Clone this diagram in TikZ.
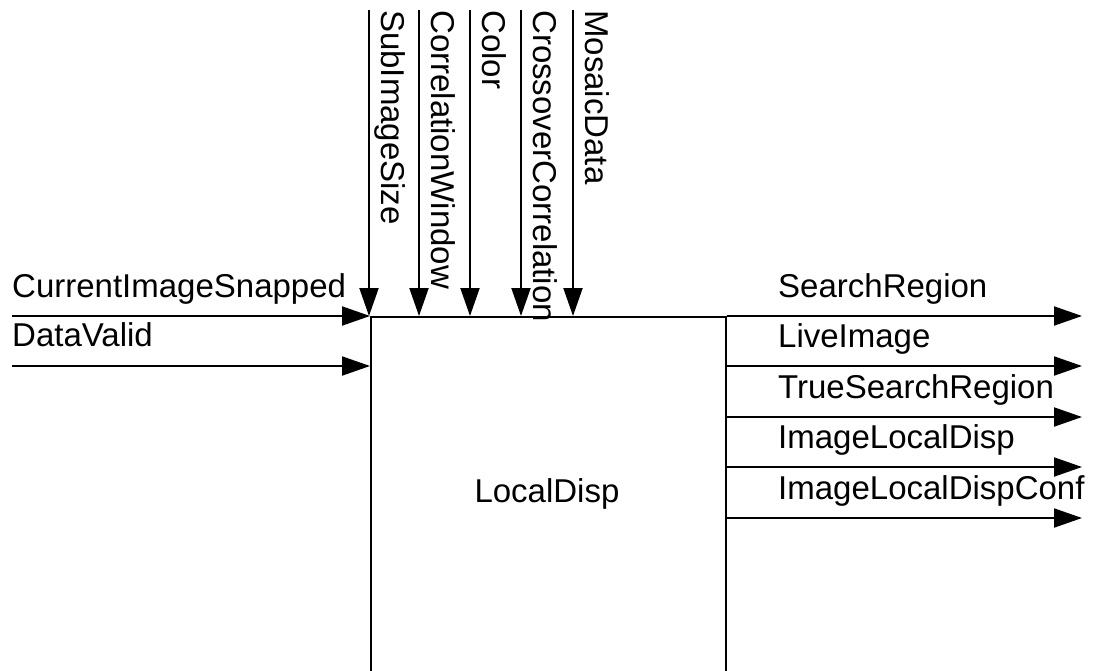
\documentclass[tikz,border=0pt]{standalone}
\usepackage{fontspec}
\setmainfont{Liberation Sans}
\usetikzlibrary{arrows.meta}
\begin{document}
\begin{tikzpicture}[x=1pt,y=1pt,
  sig/.style={line width=2pt,-{Triangle[length=28pt,width=19pt]}},
  lbl/.style={inner sep=0pt,anchor=base west,font=\fontsize{33}{38}\selectfont},
  vlbl/.style={lbl,rotate=-90}]
\clip (0,0) rectangle (1098,-670);
\fill[white] (0,0) rectangle (1098,-670);

% main block, open past the lower edge
\node[draw,line width=2pt,minimum width=355pt,minimum height=420pt,
      anchor=north west,inner sep=0pt] (ld) at (370,-316) {};
\node[lbl,anchor=base] (ldname) at (547,-502) {LocalDisp};

% inputs from the left
\coordinate (i1) at (12,-316);
\coordinate (i2) at (12,-366);
\draw[sig] (i1) -- (i1 -| ld.west);
\draw[sig] (i2) -- (i2 -| ld.west);
\node[lbl] (li1) at (12,-297) {CurrentImageSnapped};
\node[lbl] (li2) at (12,-346) {DataValid};

% inputs from above
\foreach \n/\x/\t in {1/369/SubImageSize,2/419/CorrelationWindow,3/470/Color,
                      4/521/CrossoverCorrelation,5/573/MosaicData}{
  \coordinate (t\n) at (\x,-10);
  \draw[sig] (t\n) -- (t\n |- ld.north);
  \node[vlbl] (lt\n) at (\x+12,-10) {\t};
}

% outputs to the right
\foreach \n/\y/\t in {1/316/SearchRegion,2/366/LiveImage,3/417/TrueSearchRegion,
                      4/467/ImageLocalDisp,5/518/ImageLocalDispConf}{
  \coordinate (o\n) at (1082,-\y);
  \draw[sig] (o\n -| ld.east) -- (o\n);
  \node[lbl] (lo\n) at (778,-\y+19) {\t};
}
\end{tikzpicture}
\end{document}
